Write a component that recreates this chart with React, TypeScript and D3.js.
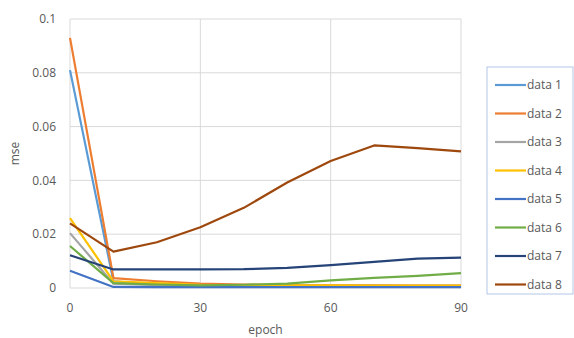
import React from 'react';
import * as d3 from 'd3';

const epochs = [0, 10, 20, 30, 40, 50, 60, 70, 80, 90];
const seriesNames = ['data 1', 'data 2', 'data 3', 'data 4', 'data 5', 'data 6', 'data 7', 'data 8'];
const data1 = [0.081, 0.0025, 0.0012, 0.0009, 0.0008, 0.0007, 0.0006, 0.0006, 0.0005, 0.0005];
const data2 = [0.093, 0.0037, 0.0025, 0.0016, 0.0013, 0.0011, 0.001, 0.001, 0.0009, 0.0009];
const data3 = [0.0204, 0.0016, 0.0011, 0.001, 0.0009, 0.0009, 0.0008, 0.0008, 0.0008, 0.0008];
const data4 = [0.026, 0.0025, 0.0018, 0.0012, 0.0011, 0.001, 0.001, 0.0009, 0.0009, 0.0009];
const data5 = [0.0064, 0.0004, 0.0003, 0.0003, 0.0003, 0.0003, 0.0003, 0.0003, 0.0003, 0.0003];
const data6 = [0.0156, 0.0018, 0.0013, 0.001, 0.0012, 0.0016, 0.0028, 0.0038, 0.0045, 0.0055];
const data7 = [0.0122, 0.0069, 0.0069, 0.0069, 0.007, 0.0075, 0.0085, 0.0097, 0.0109, 0.0113];
const data8 = [0.024, 0.0135, 0.017, 0.0226, 0.0298, 0.0392, 0.0472, 0.053, 0.052, 0.0508];
const seriesValues = [data1, data2, data3, data4, data5, data6, data7, data8];
const colors = ['#5B9BD5', '#ED7D31', '#A5A5A5', '#FFC000', '#4472C4', '#70AD47', '#264478', '#9E480E'];
const yTicks = [0, 0.02, 0.04, 0.06, 0.08, 0.1];
const xTicks = [0, 30, 60, 90];

const App: React.FC = () => {
  const width = 574;
  const height = 338;
  const margin = { top: 19, left: 70, right: 113, bottom: 50 };
  const plotW = width - margin.left - margin.right;
  const plotH = height - margin.top - margin.bottom;

  const x = d3.scaleLinear().domain([0, 90]).range([0, plotW]);
  const y = d3.scaleLinear().domain([0, 0.1]).range([plotH, 0]);

  const line = d3.line<[number, number]>()
    .x(d => x(d[0]))
    .y(d => y(d[1]));

  const fmt = (v: number) => (v === 0 ? '0' : String(+v.toFixed(2)));
  const font = "'Open Sans', 'Liberation Sans', sans-serif";

  return (
    <svg width={width} height={height} style={{ position: 'absolute', left: 0, top: 0, background: '#fff' }}>
      <g transform={`translate(${margin.left},${margin.top})`}>
        {yTicks.map(t => (
          <line key={'gy' + t} x1={0} x2={plotW} y1={y(t)} y2={y(t)} stroke="#d9d9d9" strokeWidth={1} />
        ))}
        {xTicks.map(t => (
          <line key={'gx' + t} x1={x(t)} x2={x(t)} y1={0} y2={plotH} stroke="#d9d9d9" strokeWidth={1} />
        ))}
        {yTicks.map(t => (
          <text key={'ty' + t} x={-14} y={y(t)} dy="0.35em" textAnchor="end" fontSize={12} fill="#595959" fontFamily={font}>
            {fmt(t)}
          </text>
        ))}
        {xTicks.map(t => (
          <text key={'tx' + t} x={x(t)} y={plotH + 20} dy="0.35em" textAnchor="middle" fontSize={12} fill="#595959" fontFamily={font}>
            {t}
          </text>
        ))}
        {seriesValues.map((vals, i) => (
          <path
            key={seriesNames[i]}
            d={line(epochs.map((e, j) => [e, vals[j]] as [number, number])) || ''}
            fill="none"
            stroke={colors[i]}
            strokeWidth={2.2}
            strokeLinejoin="round"
          />
        ))}
        <text x={plotW / 2} y={plotH + 42} dy="0.35em" textAnchor="middle" fontSize={12} fill="#595959" fontFamily={font}>
          epoch
        </text>
        <text
          transform={`translate(${-55},${plotH / 2}) rotate(-90)`}
          textAnchor="middle"
          dy="0.35em"
          fontSize={12}
          fill="#595959"
          fontFamily={font}
        >
          mse
        </text>
      </g>
      <g transform="translate(487,67)">
        <rect x={0} y={0} width={86} height={227} fill="#fff" stroke="#b4c7e7" strokeWidth={1} />
        {seriesNames.map((name, i) => (
          <g key={name} transform={`translate(8,${18 + i * 28.5})`}>
            <line x1={0} x2={31} y1={0} y2={0} stroke={colors[i]} strokeWidth={2.2} />
            <text x={32} y={0} dy="0.35em" fontSize={12} fill="#595959" fontFamily={font}>
              {name}
            </text>
          </g>
        ))}
      </g>
    </svg>
  );
};

export default App;
